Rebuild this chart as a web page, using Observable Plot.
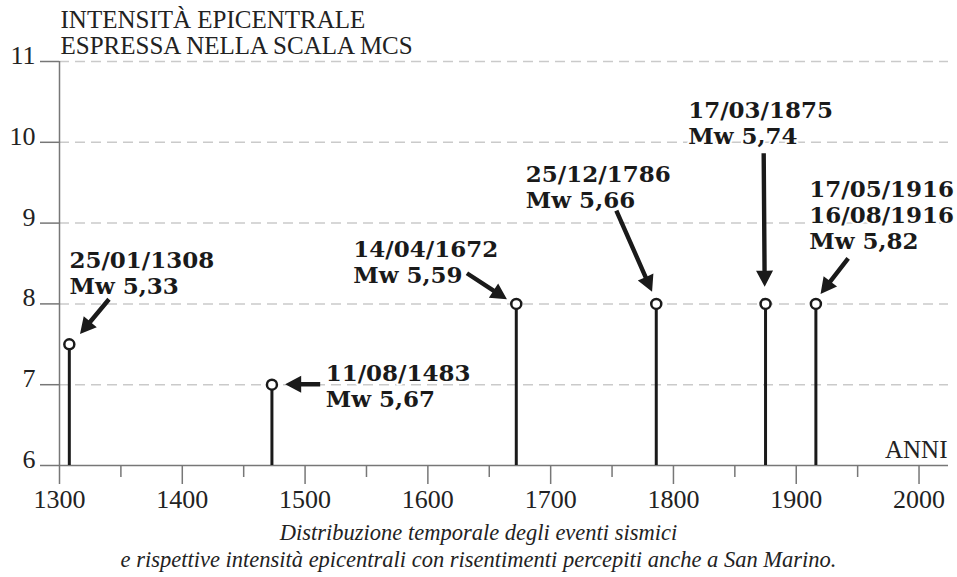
<!DOCTYPE html>
<html>
<head>
<meta charset="utf-8">
<script src="https://cdn.jsdelivr.net/npm/d3@7"></script>
<script src="https://cdn.jsdelivr.net/npm/@observablehq/plot@0.6"></script>
<style>
  body { margin: 0; background: #fff; }
  #chart svg { display: block; }
</style>
</head>
<body>
<div id="chart"></div>
<script>
// ---- data ----
const years = [1308, 1473, 1672, 1786, 1875, 1916];      // stem positions (years)
const intensity = [7.5, 7, 8, 8, 8, 8];                   // epicentral intensity (MCS)

const labelTexts = [
  "25/01/1308\nMw 5,33",
  "11/08/1483\nMw 5,67",
  "14/04/1672\nMw 5,59",
  "25/12/1786\nMw 5,66",
  "17/03/1875\nMw 5,74",
  "17/05/1916\n16/08/1916\nMw 5,82"
];
const labelX = [1308.1, 1516.8, 1539.3, 1679.8, 1812, 1910.6];
const labelY = [8.675, 7.269, 8.807, 9.735, 10.531, 9.549];

const arrowX1 = [1340.7, 1512.7, 1632.2, 1753.9, 1873.9, 1942.7];
const arrowY1 = [8.051, 7.0, 8.373, 9.147, 9.858, 8.558];
const arrowX2 = [1317.1, 1484.2, 1664.8, 1783.0, 1874.7, 1920.2];
const arrowY2 = [7.621, 7.0, 8.051, 8.145, 8.207, 8.116];

const yTicks = [6, 7, 8, 9, 10, 11];
const gridY = [7, 8, 9, 10, 11];
const xMajor = [1300, 1400, 1500, 1600, 1700, 1800, 1900, 2000];
const xMinor = [1350, 1450, 1550, 1650, 1750, 1850, 1950];

const titleText = "INTENSITÀ EPICENTRALE\nESPRESSA NELLA SCALA MCS";
const xAxisLabel = "ANNI";
const captionText = "Distribuzione temporale degli eventi sismici\ne rispettive intensità epicentrali con risentimenti percepiti anche a San Marino.";

// ---- tables built from the arrays ----
const events = years.map((x, i) => ({x, v: intensity[i]}));
const labels = labelTexts.map((t, i) => ({t, x: labelX[i], y: labelY[i]}));
const arrows = arrowX1.map((x1, i) => ({x1, y1: arrowY1[i], x2: arrowX2[i], y2: arrowY2[i]}));

const ink = "#1a1a1a";
const axisGrey = "#777";
const serif = "'Liberation Serif', 'Times New Roman', serif";

function filledArrows(index, scales, values) {
  const g = d3.create("svg:g");
  const X1 = values.x1, Y1 = values.y1, X2 = values.x2, Y2 = values.y2;
  const head = 16, hw = 8.5, sw = 2.2;
  for (const i of index) {
    const dx = X2[i] - X1[i], dy = Y2[i] - Y1[i], L = Math.hypot(dx, dy);
    const ux = dx / L, uy = dy / L, px = -uy, py = ux;
    const bx = X2[i] - ux * head, by = Y2[i] - uy * head;
    const pts = [
      [X1[i] + px * sw, Y1[i] + py * sw],
      [bx + px * sw, by + py * sw],
      [bx + px * hw, by + py * hw],
      [X2[i], Y2[i]],
      [bx - px * hw, by - py * hw],
      [bx - px * sw, by - py * sw],
      [X1[i] - px * sw, Y1[i] - py * sw]
    ];
    g.append("path")
      .attr("d", "M" + pts.map(p => p.join(",")).join("L") + "Z")
      .attr("fill", ink);
  }
  return g.node();
}

const chart = Plot.plot({
  width: 957,
  height: 577,
  marginLeft: 59,
  marginRight: 9,
  marginTop: 61,
  marginBottom: 112,
  x: {domain: [1300, 2024], label: null},
  y: {domain: [6, 11], label: null},
  style: {fontFamily: serif, fontSize: "25px", color: "#222", background: "#fff", overflow: "visible"},
  marks: [
    Plot.ruleY(gridY, {stroke: "#cacaca", strokeWidth: 1.5, strokeDasharray: "10,6"}),
    Plot.ruleY([6], {stroke: axisGrey, strokeWidth: 1.5}),
    Plot.ruleX([1300], {y1: 6, y2: 11, stroke: axisGrey, strokeWidth: 1.5}),
    // axis ticks (labels drawn as text marks below)
    Plot.axisY({ticks: yTicks, tickSize: 19, tickFormat: () => "", stroke: axisGrey, strokeWidth: 1.5, label: null}),
    Plot.axisX({ticks: xMinor, tickSize: 12, tickFormat: () => "", stroke: axisGrey, strokeWidth: 1.5, label: null}),
    Plot.axisX({ticks: xMajor, tickSize: 19, tickFormat: () => "", stroke: axisGrey, strokeWidth: 1.5, label: null}),
    // tick labels
    Plot.text(yTicks, {x: 1300, y: d => d, text: d => String(d), dx: -24, dy: 2.5, textAnchor: "end", lineAnchor: "bottom",
                       fontFamily: serif, fontSize: 26, fill: "#222"}),
    Plot.text(xMajor, {x: d => d, y: 6, text: d => String(d), dy: 42.5, textAnchor: "middle", lineAnchor: "bottom",
                       fontFamily: serif, fontSize: 26, fill: "#222"}),
    // stems and heads
    Plot.ruleX(events, {x: "x", y1: 6, y2: "v", stroke: ink, strokeWidth: 3}),
    Plot.dot(events, {x: "x", y: "v", r: 5, fill: "white", stroke: ink, strokeWidth: 2.5}),
    // annotations
    Plot.text(labels, {x: "x", y: "y", text: "t", textAnchor: "start", lineAnchor: "top",
                       fontFamily: "'DejaVu Serif', serif", fontWeight: "bold", fontSize: 23, lineHeight: 1.13,
                       fill: ink, stroke: "white", strokeWidth: 4}),
    Plot.link(arrows, {x1: "x1", y1: "y1", x2: "x2", y2: "y2", stroke: ink, strokeWidth: 4, render: filledArrows}),
    // title, axis label, caption
    Plot.text([titleText], {text: d => d, frameAnchor: "top-left", dx: 1, dy: -8, lineAnchor: "bottom", textAnchor: "start",
                            fontFamily: serif, fontSize: 25, lineHeight: 1.04, fill: "#222"}),
    Plot.text([xAxisLabel], {text: d => d, frameAnchor: "bottom-right", dx: -1, dy: -8, lineAnchor: "bottom", textAnchor: "end",
                             fontFamily: serif, fontSize: 25, fill: "#222"}),
    Plot.text([captionText], {text: d => d, frameAnchor: "bottom-left", dx: 419, dy: 101.7, lineAnchor: "bottom", textAnchor: "middle",
                              fontFamily: serif, fontStyle: "italic", fontSize: 22.5, lineHeight: 1.23, fill: "#222"})
  ]
});
document.getElementById("chart").append(chart);
</script>
</body>
</html>
